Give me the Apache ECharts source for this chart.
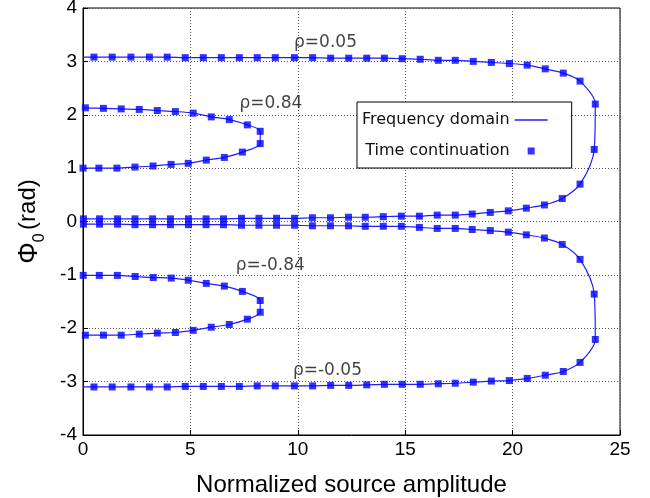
<!DOCTYPE html>
<html>
<head>
<meta charset="utf-8">
<script src="https://cdn.jsdelivr.net/npm/echarts@6.0.0/dist/echarts.min.js"></script>
<style>
    html, body { margin: 0; padding: 0; background: #fff; }
    #phaseChart { width: 650px; height: 498px; }
</style>
</head>
<body>
<div id="phaseChart"></div>
<script>
    // time continuation points, one array per rho (x = amplitude, y = phase)
    var tc05 = [[0.51,3.08],[1.36,3.08],[2.23,3.08],[3.09,3.08],[3.92,3.08],[4.76,3.07],[5.60,3.07],[6.44,3.07],[7.28,3.07],[8.11,3.07],[8.95,3.07],[9.84,3.07],[10.69,3.07],[11.53,3.06],[12.37,3.06],[13.21,3.06],[14.03,3.06],[14.86,3.05],[15.70,3.04],[16.54,3.02],[17.33,3.02],[18.17,3.00],[19.01,2.98],[19.85,2.96],[20.68,2.93],[21.52,2.86],[22.36,2.78],[23.14,2.63],[23.85,2.20],[23.80,1.35],[23.14,0.70],[22.31,0.43],[21.48,0.31],[20.64,0.25],[19.80,0.20],[18.96,0.17],[18.12,0.14],[17.33,0.12],[16.49,0.12],[15.66,0.10],[14.82,0.10],[13.98,0.09],[13.14,0.08],[12.36,0.08],[11.52,0.07],[10.68,0.07],[9.85,0.06],[9.01,0.06],[8.19,0.06],[7.38,0.06],[6.54,0.05],[5.73,0.05],[4.91,0.05],[4.07,0.05],[3.24,0.05],[2.42,0.05],[1.61,0.05],[0.77,0.05],[0.02,0.05]];
    var tcm05 = [[0.02,-0.05],[0.77,-0.05],[1.61,-0.05],[2.42,-0.06],[3.24,-0.06],[4.07,-0.06],[4.91,-0.06],[5.73,-0.06],[6.54,-0.06],[7.38,-0.07],[8.19,-0.07],[9.01,-0.07],[9.85,-0.07],[10.68,-0.08],[11.52,-0.08],[12.36,-0.08],[13.14,-0.09],[13.98,-0.09],[14.82,-0.09],[15.66,-0.11],[16.49,-0.13],[17.33,-0.13],[18.12,-0.15],[18.96,-0.17],[19.80,-0.20],[20.64,-0.25],[21.48,-0.31],[22.31,-0.43],[23.14,-0.71],[23.80,-1.36],[23.85,-2.21],[23.14,-2.64],[22.36,-2.81],[21.52,-2.88],[20.68,-2.94],[19.85,-2.98],[19.01,-2.99],[18.17,-3.01],[17.33,-3.03],[16.54,-3.04],[15.70,-3.05],[14.86,-3.05],[14.03,-3.05],[13.21,-3.06],[12.37,-3.07],[11.53,-3.07],[10.69,-3.08],[9.84,-3.08],[8.95,-3.08],[8.11,-3.08],[7.28,-3.09],[6.44,-3.09],[5.60,-3.09],[4.76,-3.09],[3.92,-3.10],[3.09,-3.10],[2.23,-3.10],[1.36,-3.10],[0.51,-3.10]];
    var tc84 = [[0.11,2.13],[0.95,2.12],[1.78,2.11],[2.62,2.10],[3.46,2.08],[4.30,2.06],[5.13,2.03],[5.97,1.96],[6.81,1.91],[7.65,1.81],[8.25,1.69],[8.25,1.46],[7.42,1.30],[6.58,1.20],[5.74,1.15],[4.90,1.09],[4.10,1.07],[3.26,1.04],[2.42,1.02],[1.58,1.00],[0.74,1.00],[0.00,1.00]];
    var tcm84 = [[0.01,-1.01],[0.76,-1.01],[1.60,-1.01],[2.43,-1.03],[3.27,-1.05],[4.11,-1.06],[4.90,-1.10],[5.74,-1.16],[6.58,-1.21],[7.42,-1.31],[8.25,-1.48],[8.25,-1.70],[7.65,-1.83],[6.81,-1.93],[5.97,-1.98],[5.13,-2.04],[4.30,-2.08],[3.46,-2.09],[2.62,-2.11],[1.78,-2.13],[0.95,-2.13],[0.11,-2.13]];

    // frequency domain curve reaches the axis where the first/last square does not
    var fd05Start = [0, 3.08];
    var fd84Start = [0, 2.14];
    var fdm84End = [0, -2.14];
    var fdm05End = [0, -3.10];

    var rhoLabels = ['ρ=0.05', 'ρ=0.84', 'ρ=-0.84', 'ρ=-0.05'];
    var rhoPos = [[11.29, 3.36], [8.75, 2.20], [8.72, -0.82], [11.38, -2.80]];

    var xTicks = [0, 5, 10, 15, 20, 25];
    var yTicks = [-4, -3, -2, -1, 0, 1, 2, 3, 4];

    var fdLines = [
        [fd05Start].concat(tc05),
        [fd84Start].concat(tc84),
        tcm84.concat([fdm84End]),
        tcm05.concat([fdm05End])
    ];
    var tcSets = [tc05, tc84, tcm84, tcm05];

    var series = [];
    fdLines.forEach(function (d) {
        series.push({
            name: 'Frequency domain',
            type: 'line',
            data: d,
            smooth: 0.3,
            showSymbol: false,
            symbol: 'none',
            lineStyle: { color: '#1f1fff', width: 1.2 },
            itemStyle: { color: '#1f1fff' },
            z: 2
        });
    });
    tcSets.forEach(function (d) {
        series.push({
            name: 'Time continuation',
            type: 'scatter',
            data: d,
            symbol: 'rect',
            symbolSize: 7,
            itemStyle: { color: '#0000ff' },
            z: 3
        });
    });
    series.push({
        name: 'labels',
        type: 'scatter',
        symbolSize: 0,
        data: rhoPos.map(function (p, i) { return { value: p, name: rhoLabels[i] }; }),
        label: {
            show: true,
            position: 'inside',
            formatter: function (p) { return p.name; },
            color: '#111',
            fontSize: 17,
            fontFamily: 'DejaVu Sans'
        },
        z: 4
    });

    var myChart = echarts.init(document.getElementById('phaseChart'));
    myChart.setOption({
        animation: false,
        backgroundColor: '#fff',
        grid: {
            left: 83,
            right: 30,
            top: 8,
            bottom: 63,
            outerBoundsMode: 'none',
            containLabel: false,
            show: true,
            borderColor: '#000',
            borderWidth: 1
        },
        legend: {
            data: [
                { name: 'Frequency domain', icon: 'path://M0,0h33v1.3h-33z' },
                { name: 'Time continuation', icon: 'path://M0,0h7v7h-7z' }
            ],
            orient: 'vertical',
            left: 357,
            top: 102,
            align: 'right',
            itemWidth: 33,
            itemHeight: 7,
            itemGap: 15,
            symbolKeepAspect: true,
            padding: [10, 24, 9, 5],
            borderColor: '#000',
            borderWidth: 1,
            borderRadius: 0,
            backgroundColor: '#fff',
            textStyle: {
                color: '#111',
                fontSize: 16,
                fontFamily: 'DejaVu Sans',
                width: 150,
                align: 'right'
            }
        },
        xAxis: {
            type: 'value',
            min: xTicks[0],
            max: xTicks[xTicks.length - 1],
            interval: 5,
            name: 'Normalized source amplitude',
            nameLocation: 'middle',
            nameGap: 38,
            nameTextStyle: { color: '#000', fontSize: 24, fontFamily: 'Liberation Sans' },
            axisLine: { onZero: false, lineStyle: { color: '#000' } },
            axisTick: { inside: true, length: 5, lineStyle: { color: '#000' } },
            axisLabel: { color: '#000', fontSize: 19, fontFamily: 'Liberation Sans', margin: 5 },
            splitLine: { show: true, lineStyle: { color: '#555', type: [1, 2] } }
        },
        yAxis: {
            type: 'value',
            min: yTicks[0],
            max: yTicks[yTicks.length - 1],
            interval: 1,
            name: '{phi|Φ}{sub|0} {t|(rad)}',
            nameLocation: 'middle',
            nameRotate: 90,
            nameGap: 35,
            nameTextStyle: {
                color: '#000',
                fontFamily: 'Liberation Sans',
                rich: {
                    phi: { fontSize: 27, color: '#000', fontFamily: 'Liberation Sans', lineHeight: 32, verticalAlign: 'top' },
                    sub: { fontSize: 16, color: '#000', fontFamily: 'Liberation Sans', lineHeight: 14, verticalAlign: 'bottom' },
                    t: { fontSize: 24, color: '#000', fontFamily: 'Liberation Sans', lineHeight: 32, verticalAlign: 'top' }
                }
            },
            axisLine: { onZero: false, lineStyle: { color: '#000' } },
            axisTick: { inside: true, length: 5, lineStyle: { color: '#000' } },
            axisLabel: { color: '#000', fontSize: 19, fontFamily: 'Liberation Sans', margin: 6 },
            splitLine: { show: true, lineStyle: { color: '#555', type: [1, 2] } }
        },
        series: series
    });
</script>
</body>
</html>
